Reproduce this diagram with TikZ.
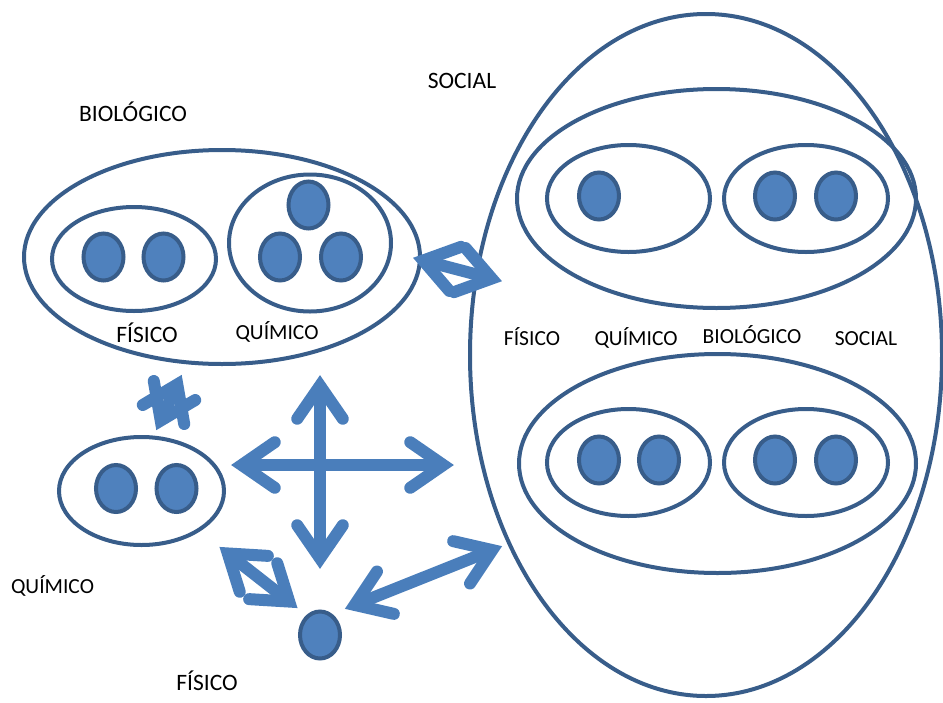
\documentclass[tikz,border=0pt]{standalone}
\usepackage{fontspec}
\setmainfont{Carlito}
\usetikzlibrary{shapes.geometric,calc}
\definecolor{edgeblue}{HTML}{385D8A}
\definecolor{dotblue}{HTML}{4F81BD}
\definecolor{arrblue}{HTML}{4A7EBB}
\tikzset{
  oval/.style 2 args={ellipse, draw=edgeblue, line width=4pt, inner sep=0pt,
    minimum width=#1, minimum height=#2},
  dot/.style={ellipse, draw=edgeblue, fill=dotblue, line width=4pt, inner sep=0pt,
    minimum width=40pt, minimum height=47pt},
  biglbl/.style={inner sep=0pt, anchor=base, font=\fontsize{23.5}{28}\selectfont},
  smalllbl/.style={inner sep=0pt, anchor=base, font=\fontsize{21.5}{26}\selectfont},
  shaft/.style={draw=arrblue, line width=12pt, line cap=butt},
  chev/.style={draw=arrblue, line width=12pt, line cap=round, line join=miter},
}
\newcommand\headat[2]{% head at tip #1, pointing away from #2
  \draw[chev] ($(#1)!52pt!26:(#2)$) -- ($(#1)!13.7pt!(#2)$) -- ($(#1)!52pt!-26:(#2)$);}
\newcommand\dblarrow[2]{%
  \draw[shaft] ($(#1)!13.7pt!(#2)$) -- ($(#2)!13.7pt!(#1)$);
  \headat{#1}{#2}\headat{#2}{#1}}
\begin{document}
\begin{tikzpicture}[x=1pt,y=-1pt]
\useasboundingbox (0,0) rectangle (943,702);
\begin{scope}
\clip (0,0) rectangle (943,702);
% left biological group
\node[oval={396pt}{214pt}] (bio) at (222,257) {};
\node[oval={164pt}{104pt}] (biofis) at (134,259) {};
\node[oval={162pt}{137pt}] (bioqui) at (310,243) {};
\node[dot] (bf1) at (103.5,257) {};
\node[dot] (bf2) at (163.5,257) {};
\node[dot] (bq1) at (308.5,205) {};
\node[dot] (bq2) at (280,257) {};
\node[dot] (bq3) at (341,257) {};
% social group
\node[oval={472pt}{682pt}] (soc) at (706,355) {};
\node[oval={399pt}{219pt}] (socup) at (716.5,198.5) {};
\node[oval={163pt}{107pt}] (upl) at (628.5,198.5) {};
\node[oval={164pt}{107pt}] (upr) at (806,198.5) {};
\node[dot] (u1) at (599,196) {};
\node[dot] (u2) at (775,196) {};
\node[dot] (u3) at (836,196) {};
\node[oval={397pt}{219pt}] (soclo) at (717.5,463.5) {};
\node[oval={163pt}{107pt}] (lol) at (628.5,462.5) {};
\node[oval={164pt}{107pt}] (lor) at (806,462.5) {};
\node[dot] (l1) at (599,460) {};
\node[dot] (l2) at (659,460) {};
\node[dot] (l3) at (775,460) {};
\node[dot] (l4) at (836,460) {};
% chemical group
\node[oval={165pt}{108pt}] (qui) at (141.5,491) {};
\node[dot] (q1) at (116,488.5) {};
\node[dot] (q2) at (176.5,488.5) {};
% physical
\node[dot] (fis) at (320,635) {};
\end{scope}
% labels
\node[biglbl] (tbio) at (133,121) {BIOLÓGICO};
\node[biglbl] (tsoc) at (462,88) {SOCIAL};
\node[biglbl] (tbf) at (147,342) {FÍSICO};
\node[smalllbl] (tbq) at (277,339) {QUÍMICO};
\node[smalllbl] (r1) at (532,345) {FÍSICO};
\node[smalllbl] (r2) at (636,345) {QUÍMICO};
\node[smalllbl] (r3) at (752,343) {BIOLÓGICO};
\node[smalllbl] (r4) at (866,345) {SOCIAL};
\node[smalllbl] (tq) at (52.5,593) {QUÍMICO};
\node[biglbl] (tf) at (207,690) {FÍSICO};
% arrow end points
\coordinate (cu) at (320,372);
\coordinate (cd) at (320,572);
\coordinate (cl) at (228,465);
\coordinate (cr) at (457,465);
\coordinate (a1) at (410,257);
\coordinate (b1) at (505,282);
\coordinate (a2) at (183,372);
\coordinate (b2) at (155,433);
\coordinate (a3) at (217,545);
\coordinate (b3) at (300,610);
\coordinate (a4) at (342,610);
\coordinate (b4) at (505,545);
% arrows
\dblarrow{cu}{cd}
\dblarrow{cl}{cr}
\dblarrow{a1}{b1}
\dblarrow{a2}{b2}
\dblarrow{a3}{b3}
\dblarrow{a4}{b4}
\end{tikzpicture}
\end{document}
